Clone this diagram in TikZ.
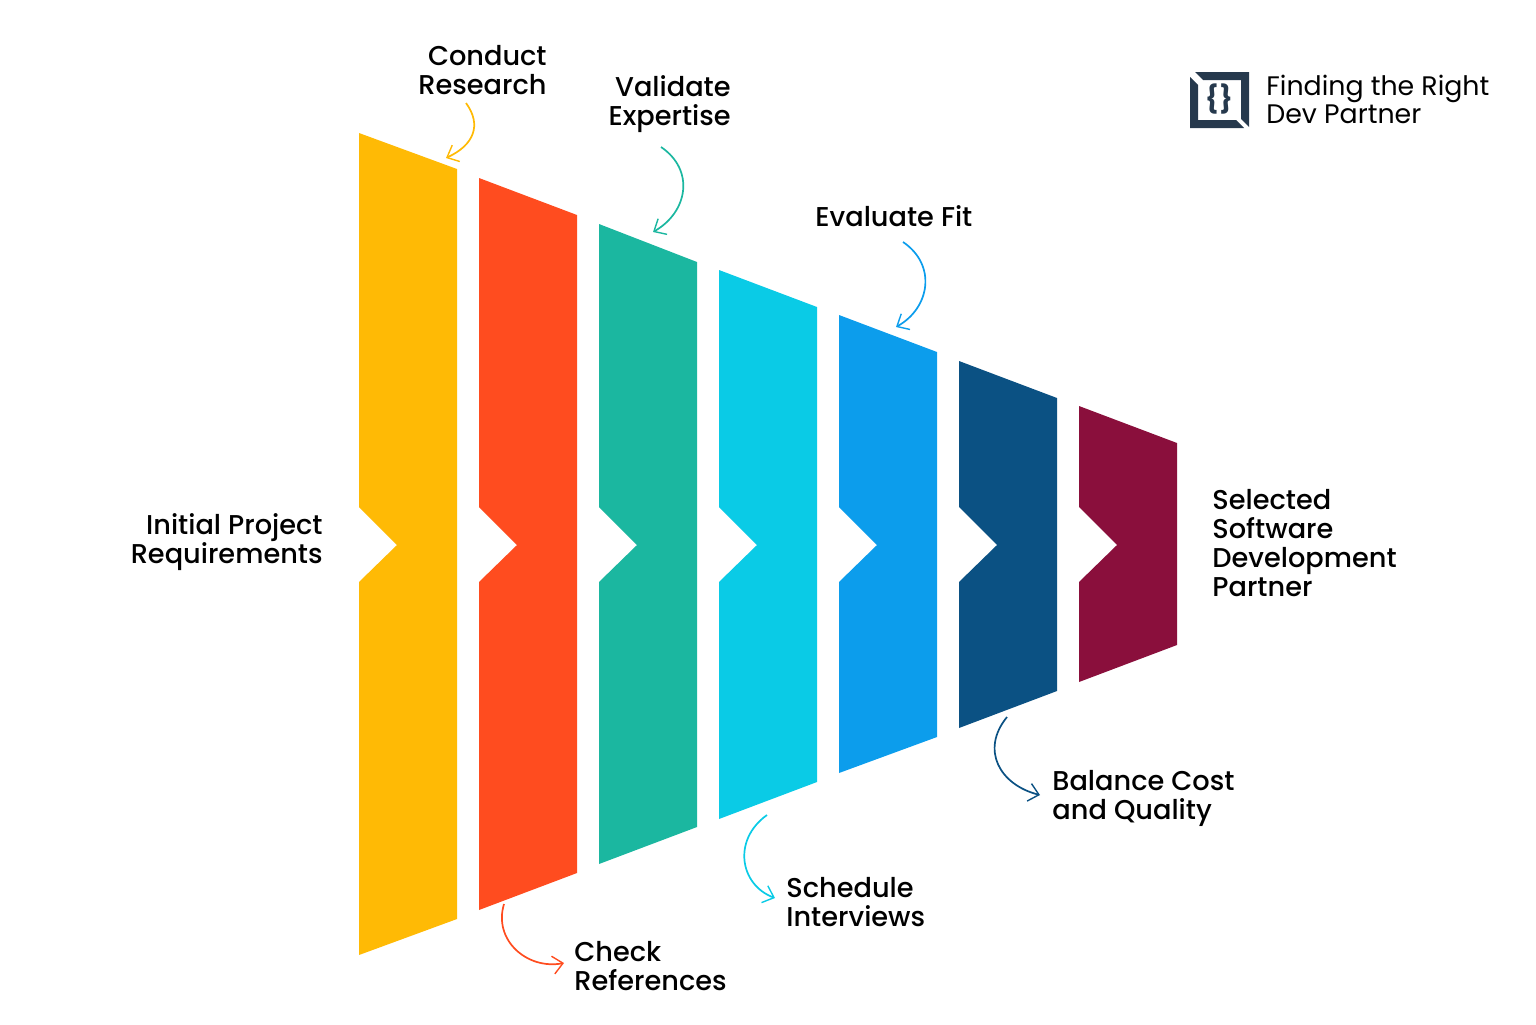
\documentclass[tikz,border=0pt]{standalone}
\usepackage{fontspec}
\setmainfont{Poppins}[UprightFont=* Medium,BoldFont=* Bold]
\usetikzlibrary{arrows.meta,positioning}
\definecolor{bandA}{HTML}{FFBA05}
\definecolor{bandB}{HTML}{FF4C1F}
\definecolor{bandC}{HTML}{1BB7A0}
\definecolor{bandD}{HTML}{0ACBE6}
\definecolor{bandE}{HTML}{0C9DEC}
\definecolor{bandF}{HTML}{0B5183}
\definecolor{bandG}{HTML}{8A0F3C}
\definecolor{logoblue}{HTML}{26394D}
\tikzset{
	lbl/.style={inner sep=0pt,font=\fontsize{13.6}{14.5}\selectfont,text=black},
	lblr/.style={lbl,align=right},
	lbll/.style={lbl,align=left},
	curve/.style={line width=0.85pt,-{Straight Barb[length=5pt,width=9pt,line width=0.7pt]}},
}
\begin{document}
\begin{tikzpicture}[x=0.5pt,y=-0.5pt]
	\useasboundingbox (0,0) rectangle (1536,1024);
	% bands
	\fill[bandA] (359,133) -- (457,169) -- (457,919) -- (359,955) -- (359,582) -- (397,545) -- (359,507) -- cycle;
	\fill[bandB] (479,178) -- (577,215) -- (577,873) -- (479,910) -- (479,582) -- (517,545) -- (479,507) -- cycle;
	\fill[bandC] (599,224) -- (697,262) -- (697,827) -- (599,864) -- (599,582) -- (637,545) -- (599,507) -- cycle;
	\fill[bandD] (719,270) -- (817,307) -- (817,782) -- (719,819) -- (719,582) -- (757,545) -- (719,507) -- cycle;
	\fill[bandE] (839,315) -- (937,352) -- (937,737) -- (839,773) -- (839,582) -- (877,545) -- (839,507) -- cycle;
	\fill[bandF] (959,361) -- (1057,398) -- (1057,691) -- (959,728) -- (959,582) -- (997,545) -- (959,507) -- cycle;
	\fill[bandG] (1079,406) -- (1177,443) -- (1177,645) -- (1079,682) -- (1079,582) -- (1117,545) -- (1079,507) -- cycle;

	% labels
	\node (initial) [lblr,anchor=east] at (323,542) {Initial Project\\Requirements};
	\node (conduct) [lblr,anchor=east] at (547,70) {Conduct\\Research};
	\node (validate) [lblr,anchor=east] at (731,104) {Validate\\Expertise};
	\node (evaluate) [lbll,anchor=west] at (815,216) {Evaluate Fit};
	\node (selected) [lbll,anchor=west] at (1212,543) {Selected\\Software\\Development\\Partner};
	\node (check) [lbll,anchor=west] at (574,966) {Check\\References};
	\node (schedule) [lbll,anchor=west] at (786,902) {Schedule\\Interviews};
	\node (balance) [lbll,anchor=west] at (1052,798) {Balance Cost\\and Quality};

	% arrow ends
	\coordinate (conductS) at (466,103);
	\coordinate (conductE) at (446,158);
	\coordinate (validateS) at (661,147);
	\coordinate (validateE) at (653,232);
	\coordinate (evaluateS) at (903,242);
	\coordinate (evaluateE) at (896,327);
	\coordinate (checkS) at (504,904);
	\coordinate (checkE) at (564,963);
	\coordinate (scheduleS) at (767,815);
	\coordinate (scheduleE) at (775,898);
	\coordinate (balanceS) at (1007,717);
	\coordinate (balanceE) at (1040,795);
	\draw[curve,color=bandA] (conductS) .. controls (482,125) and (474,145) .. (conductE);
	\draw[curve,color=bandC] (validateS) .. controls (695,170) and (688,212) .. (validateE);
	\draw[curve,color=bandE] (evaluateS) .. controls (937,265) and (930,308) .. (evaluateE);
	\draw[curve,color=bandB] (checkS) .. controls (493,940) and (527,970) .. (checkE);
	\draw[curve,color=bandD] (scheduleS) .. controls (732,840) and (740,885) .. (scheduleE);
	\draw[curve,color=bandF] (balanceS) .. controls (980,750) and (1000,785) .. (balanceE);

	% logo
	\fill[logoblue] (1195,72) -- (1249,72) -- (1249,127) -- (1241,119) -- (1241,80) -- (1203,80) -- cycle;
	\fill[logoblue] (1190,77) -- (1198,85) -- (1198,120) -- (1236,120) -- (1244,128) -- (1190,128) -- cycle;
	\node (logobrace) [inner sep=0pt,text=logoblue,font=\fontsize{13.5}{14}\bfseries\selectfont] at (1219,99) {\{\hspace{0.4pt}\}};
	\node (logotext) [lbll,anchor=west,font=\fontsize{13.4}{14}\fontspec{Poppins}\selectfont] at (1266,99) {Finding the Right\\Dev Partner};
\end{tikzpicture}
\end{document}
